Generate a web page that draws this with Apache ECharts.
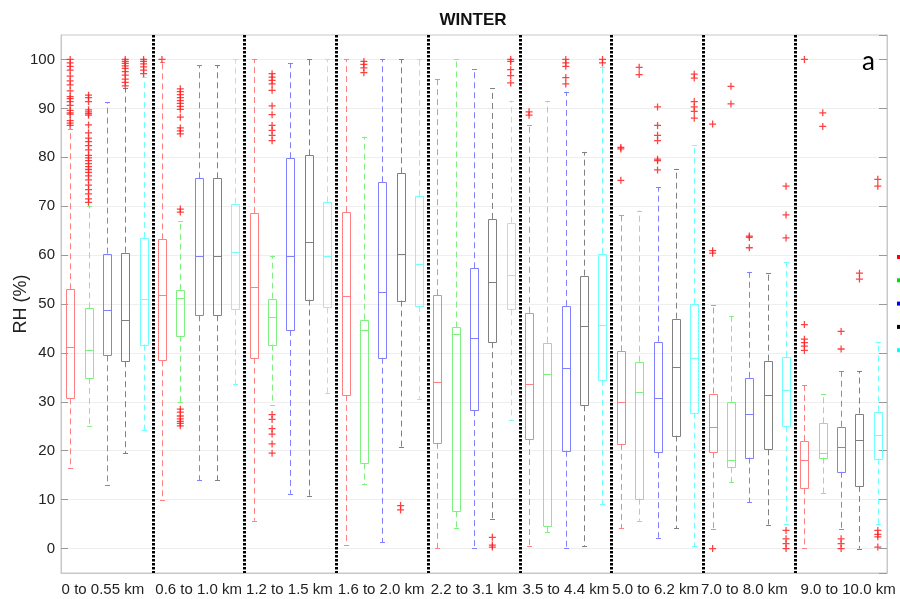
<!DOCTYPE html>
<html>
<head>
<meta charset="utf-8">
<script src="https://cdn.jsdelivr.net/npm/echarts@6/dist/echarts.min.js"></script>
<style>
html,body{margin:0;padding:0;background:#fff;}
#chart{width:900px;height:599px;}
</style>
</head>
<body>
<div id="chart"></div>
<script>
// ---- Data ----
const groupLabels = ['0 to 0.55 km', '0.6 to 1.0 km', '1.2 to 1.5 km', '1.6 to 2.0 km', '2.2 to 3.1 km',
  '3.5 to 4.4 km', '5.0 to 6.2 km', '7.0 to 8.0 km', '9.0 to 10.0 km'];
const seriesNames = ['Series 1', 'Series 2', 'Series 3', 'Series 4', 'Series 5'];
const yTicks = [0, 10, 20, 30, 40, 50, 60, 70, 80, 90, 100];

// five-number summaries per group: [min, Q1, median, Q3, max]
const redBoxes = [
  [16.5, 30.7, 41.3, 53.0, 85.8],
  [10.0, 38.5, 51.9, 63.2, 99.5],
  [5.7, 39.0, 53.4, 68.6, 100],
  [0.7, 31.4, 51.6, 68.8, 100],
  [0.1, 21.6, 34.1, 51.8, 96.0],
  [0.5, 22.4, 33.7, 48.2, 86.5],
  [4.1, 21.4, 30.0, 40.3, 68.1],
  [3.9, 19.7, 24.9, 31.7, 49.8],
  [0.1, 12.3, 18.2, 22.0, 33.4]
];
const greenBoxes = [
  [25.0, 34.9, 40.6, 49.1, 70.1],
  [29.9, 43.5, 51.3, 52.9, 67.0],
  [29.4, 41.7, 47.3, 51.1, 59.9],
  [13.1, 17.4, 44.7, 46.8, 84.2],
  [4.1, 7.6, 43.8, 45.2, 100],
  [3.4, 4.6, 35.7, 42.1, 91.5],
  [5.7, 10.2, 32.1, 38.2, 69.1],
  [13.6, 16.7, 18.2, 30.0, 47.6],
  [11.4, 18.6, 19.5, 25.6, 31.5]
];
const blueBoxes = [
  [12.9, 39.5, 48.7, 60.3, 91.2],
  [14.0, 47.7, 59.9, 75.7, 98.8],
  [11.2, 44.7, 59.8, 79.8, 99.3],
  [1.3, 39.0, 52.5, 74.9, 100],
  [0.1, 28.3, 43.0, 57.3, 98.1],
  [0.1, 20.0, 36.9, 49.6, 93.4],
  [2.2, 19.7, 30.7, 42.3, 73.9],
  [9.5, 18.6, 27.6, 34.9, 56.6],
  [3.9, 15.7, 20.8, 24.9, 36.2]
];
const blackBoxes = [
  [19.5, 38.3, 46.8, 60.5, 94.1],
  [14.0, 47.7, 59.9, 75.7, 98.8],
  [10.8, 50.9, 62.7, 80.4, 100],
  [20.7, 50.7, 60.3, 76.7, 100],
  [6.0, 42.2, 54.4, 67.4, 94.1],
  [0.5, 29.3, 45.6, 55.8, 81.1],
  [4.1, 23.1, 37.2, 47.0, 77.7],
  [4.9, 20.3, 31.3, 38.4, 56.3],
  [0.0, 12.8, 22.2, 27.6, 36.2]
];
const cyanBoxes = [
  [24.3, 41.7, 51.1, 63.5, 96.5],
  [33.7, 48.9, 60.6, 70.5, 100],
  [31.8, 49.3, 59.9, 70.8, 100],
  [30.5, 49.6, 58.2, 72.1, 100],
  [26.3, 48.9, 56.0, 66.6, 91.6],
  [9.1, 34.5, 45.8, 60.3, 98.4],
  [0.5, 27.8, 38.9, 50.0, 82.5],
  [5.1, 25.1, 32.4, 39.2, 58.5],
  [5.1, 18.4, 23.2, 28.0, 42.3]
];

// outliers per group for each box colour (all drawn as red '+')
const redOutliers = [
  [100, 99.3, 98.6, 97.8, 96.6, 95.6, 94.8, 93.6, 92.4, 92.0, 91.4, 90.6, 89.6, 89.1, 88.8, 87.5, 87.0, 86.5],
  [100], [], [], [], [89.3, 88.6], [82.0, 81.7, 75.3], [86.8, 60.9, 60.4, 0.0],
  [100, 45.8, 42.8, 42.1, 41.4, 40.5]
];
const greenOutliers = [
  [92.7, 92.2, 91.4, 89.7, 89.3, 88.9, 88.6, 86.6, 85.0, 83.9, 83.2, 82.4, 81.5, 80.4, 79.9, 79.3, 78.7, 78.1,
    77.5, 76.9, 76.2, 75.4, 74.3, 73.4, 72.5, 71.5, 70.8],
  [94.0, 93.4, 92.8, 92.2, 91.6, 91.0, 90.4, 89.8, 88.2, 86.0, 85.4, 84.8, 69.4, 68.8,
    28.5, 27.9, 27.1, 26.5, 26.0, 25.6, 25.1],
  [97.1, 96.4, 95.7, 95.0, 93.7, 90.5, 88.7, 86.5, 85.5, 84.5, 83.4, 27.4, 26.4, 24.5, 23.4, 21.4, 19.5],
  [99.6, 99.0, 98.3, 97.3], [], [], [98.4, 96.9], [94.5, 90.9], [89.1, 86.3]
];
const blueOutliers = [
  [], [], [], [], [], [100, 99.3, 98.6, 96.3, 95.0], [90.3, 86.5, 84.5, 83.4, 79.6, 79.3, 77.4],
  [63.9, 63.6, 61.5], [44.4, 40.8, 2.0, 1.0, 0.0]
];
const blackOutliers = [
  [100, 99.6, 99.2, 98.7, 98.2, 97.5, 96.8, 96.0, 95.3, 94.6],
  [], [], [8.8, 7.9], [2.3, 0.7, 0.3], [], [], [], [56.3, 55.1]
];
const cyanOutliers = [
  [100, 99.6, 99.1, 98.5, 97.8, 97.1], [], [], [], [100, 99.6, 97.9, 96.7, 95.2], [100, 99.3],
  [97.0, 96.2, 91.4, 90.3, 89.4, 88.0], [74.1, 68.2, 63.5, 3.7, 2.0, 1.0, 0.0],
  [75.5, 74.1, 3.7, 2.9, 2.4, 0.3]
];

// ---- Styling ----
const boxColors = ['#ff8080', '#80f080', '#8080ff', '#808080', '#70ffff'];
const legendColors = ['#ff0000', '#00dd00', '#0000ff', '#000000', '#00ffff'];
const FONT = 'Liberation Sans, Arial, sans-serif';
// small horizontal nudges of the group labels (label padding [right, left])
const labelPads = [[8, 0], [0, 0], [2, 0], [2, 0], [0, 0], [0, 0], [4, 0], [10, 0], [0, 14]];

const allBoxes = [redBoxes, greenBoxes, blueBoxes, blackBoxes, cyanBoxes];
const allOutliers = [redOutliers, greenOutliers, blueOutliers, blackOutliers, cyanOutliers];
const nColors = allBoxes.length;
const slotNames = [];
groupLabels.forEach(function (g, gi) {
  seriesNames.forEach(function (s, ci) { slotNames.push(gi + '-' + ci); });
});
const groupAxisData = groupLabels.map(function (g, gi) {
  return { value: g, textStyle: { padding: [0, labelPads[gi][0], 0, labelPads[gi][1]] } };
});

function boxRenderer(color) {
  return function (params, api) {
    const s = api.value(0);
    const pMin = api.coord([s, api.value(1)]);
    const pQ1 = api.coord([s, api.value(2)]);
    const pMed = api.coord([s, api.value(3)]);
    const pQ3 = api.coord([s, api.value(4)]);
    const pMax = api.coord([s, api.value(5)]);
    const band = api.size([1, 0])[0];
    const bw = band * 0.54;
    const cx = Math.round(pMin[0]) + 0.5;
    const L = Math.round(cx - bw / 2) + 0.5;
    const R = Math.round(cx + bw / 2) - 0.5;
    const cap = 2.5;
    const dashed = { stroke: color, lineWidth: 1, lineDash: [6, 4], fill: null };
    const solid = { stroke: color, lineWidth: 1, fill: null };
    return {
      type: 'group',
      children: [
        { type: 'line', shape: { x1: cx, y1: pQ3[1], x2: cx, y2: pMax[1] }, style: dashed },
        { type: 'line', shape: { x1: cx, y1: pQ1[1], x2: cx, y2: pMin[1] }, style: dashed },
        { type: 'line', shape: { x1: cx - cap, y1: Math.round(pMax[1]) + 0.5, x2: cx + cap, y2: Math.round(pMax[1]) + 0.5 }, style: solid },
        { type: 'line', shape: { x1: cx - cap, y1: Math.round(pMin[1]) + 0.5, x2: cx + cap, y2: Math.round(pMin[1]) + 0.5 }, style: solid },
        { type: 'rect', shape: { x: L, y: Math.round(pQ3[1]) + 0.5, width: R - L, height: Math.round(pQ1[1]) - Math.round(pQ3[1]) }, style: solid },
        { type: 'line', shape: { x1: L, y1: Math.round(pMed[1]) + 0.5, x2: R, y2: Math.round(pMed[1]) + 0.5 }, style: solid }
      ]
    };
  };
}

const series = [];
allBoxes.forEach(function (boxes, ci) {
  series.push({
    name: seriesNames[ci],
    type: 'custom',
    xAxisIndex: 0,
    yAxisIndex: 0,
    encode: { x: 0, y: [1, 2, 3, 4, 5] },
    itemStyle: { color: legendColors[ci] },
    renderItem: boxRenderer(boxColors[ci]),
    silent: true,
    data: boxes.map(function (b, gi) { return [gi * nColors + ci].concat(b); })
  });
});
const outlierData = [];
allOutliers.forEach(function (outs, ci) {
  outs.forEach(function (vals, gi) {
    vals.forEach(function (v) { outlierData.push([gi * nColors + ci, v]); });
  });
});
series.push({
  name: 'outliers',
  type: 'scatter',
  xAxisIndex: 0,
  yAxisIndex: 0,
  symbol: 'path://M4.1,0H5.9V4.1H10V5.9H5.9V10H4.1V5.9H0V4.1H4.1Z',
  symbolSize: 7,
  itemStyle: { color: '#ff2020', opacity: 0.85 },
  silent: true,
  z: 5,
  data: outlierData
});

const chart = echarts.init(document.getElementById('chart'), null, { renderer: 'canvas' });
chart.setOption({
  animation: false,
  backgroundColor: '#ffffff',
  textStyle: { fontFamily: FONT },
  title: [
    { text: 'WINTER', left: 468, top: 7, textAlign: 'center',
      textStyle: { fontSize: 17, fontWeight: 'bold', color: '#111', fontFamily: FONT } },
    { text: 'a', left: 857, top: 44,
      textStyle: { fontSize: 26, fontWeight: 'normal', color: '#000', fontFamily: 'Lato, sans-serif' } }
  ],
  legend: {
    data: seriesNames,
    orient: 'vertical',
    left: 897,
    top: 251,
    padding: 0,
    icon: 'rect',
    itemWidth: 5,
    itemHeight: 4,
    itemGap: 11.3,
    textStyle: { fontSize: 10, lineHeight: 12, color: '#000' }
  },
  grid: { left: 61, right: 13, top: 35, bottom: 26, show: true, borderColor: '#c8c8c8', borderWidth: 1,
    containLabel: false, outerBoundsMode: 'none' },
  xAxis: [
    { type: 'category', data: slotNames, show: false, gridIndex: 0, position: 'bottom' },
    { type: 'value', min: 0, max: 9, interval: 1, gridIndex: 0, position: 'bottom',
      axisLine: { show: false }, axisTick: { show: false }, axisLabel: { show: false },
      splitLine: { show: true, showMinLine: false, showMaxLine: false,
        lineStyle: { color: '#000', width: 3, type: [2.5, 1.5] } } },
    { type: 'category', data: groupAxisData, gridIndex: 0, position: 'bottom',
      axisLine: { show: true, lineStyle: { color: '#c8c8c8', width: 1 } },
      axisTick: { show: false },
      axisLabel: { show: true, interval: 0, fontSize: 15, color: '#222', margin: 9, fontFamily: FONT },
      splitLine: { show: false } }
  ],
  yAxis: [
    { type: 'value', min: -5, max: 105, splitNumber: 11, position: 'left',
      name: 'RH (%)', nameLocation: 'middle', nameGap: 31, nameMoveOverlap: false,
      nameTextStyle: { fontSize: 18, color: '#222', fontFamily: FONT },
      axisLine: { show: true, lineStyle: { color: '#c8c8c8', width: 1 } },
      axisTick: { show: true, inside: true, length: 7, lineStyle: { color: '#999' } },
      axisLabel: { show: true, fontSize: 15, color: '#222', margin: 6, showMinLabel: false, showMaxLabel: false, fontFamily: FONT },
      splitLine: { show: true, showMinLine: false, showMaxLine: false, lineStyle: { color: '#eeeeee', width: 1 } } },
    { type: 'value', min: -5, max: 105, splitNumber: 11, position: 'right',
      axisLine: { show: true, lineStyle: { color: '#c8c8c8', width: 1 } },
      axisTick: { show: true, inside: true, length: 8, lineStyle: { color: '#999' } },
      axisLabel: { show: false },
      splitLine: { show: false } }
  ],
  series: series
});
</script>
</body>
</html>
